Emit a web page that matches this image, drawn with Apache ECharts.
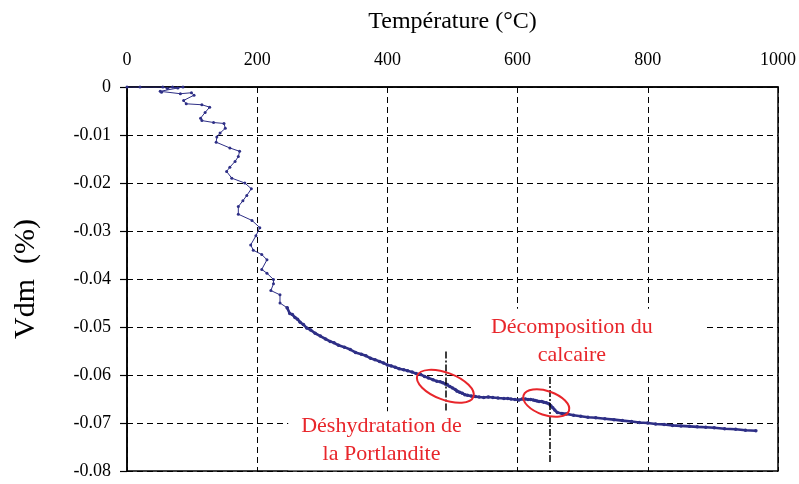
<!DOCTYPE html>
<html><head><meta charset="utf-8">
<script src="https://cdn.jsdelivr.net/npm/echarts@6/dist/echarts.min.js"></script>
<style>html,body{margin:0;padding:0;background:#fff}#c{width:799px;height:484px}</style>
</head><body><div id="c"></div>
<script>
// Temperature (°C) / Vdm (%) — early, sparse readings
const earlyData = [
 [0,0],[20,0],[55,0],[62,-0.0003],[70,0],[78,-0.0002],[86,0],[51,-0.0009],[53,-0.0011],[82,-0.0014],
 [99,-0.0012],[103,-0.0017],[87,-0.0028],[91,-0.0035],[115,-0.0037],[127,-0.0042],[120,-0.0053],
 [113,-0.0065],[115,-0.007],[133,-0.0074],[149,-0.0076],[151,-0.0086],[143,-0.0096],[138,-0.0104],
 [137,-0.0115],[158,-0.0127],[173,-0.0134],[171,-0.0145],[166,-0.0155],[158,-0.0167],[153,-0.0176],
 [161,-0.019],[181,-0.02],[191,-0.0212],[184,-0.0226],[178,-0.0237],[171,-0.0249],[171,-0.0265],
 [192,-0.0278],[204,-0.0293],[198,-0.031],[190,-0.0329],[194,-0.034],[207,-0.0349],[215,-0.036],
 [207,-0.038],[215,-0.0388],[225,-0.0401],[225,-0.041],[221,-0.0424],[235,-0.0433],[235,-0.045],[246,-0.046]
];
// dense readings
const denseData = [
 [246,-0.046],[250,-0.0472],[254,-0.0474],[258,-0.048],[262,-0.0484],[266,-0.049],[271,-0.0495],[276,-0.0502],
 [282,-0.0506],[289,-0.0513],[297,-0.0519],[305,-0.0525],[312,-0.053],[318,-0.0533],[325,-0.0538],[334,-0.0542],
 [343,-0.0547],[351,-0.0553],[360,-0.0557],[367,-0.056],[374,-0.0565],[381,-0.0568],[388,-0.0572],[394,-0.0575],
 [400,-0.0579],[406,-0.0581],[412,-0.0584],[418,-0.0587],[425,-0.0589],[431,-0.0591],[438,-0.0594],[444,-0.0597],
 [451,-0.0599],[457,-0.0603],[463,-0.0606],[470,-0.061],[476,-0.0613],[481,-0.0614],[485,-0.0616],[489,-0.0619],
 [492,-0.062],[496,-0.0624],[500,-0.0627],[504,-0.063],[507,-0.0634],[511,-0.0636],[515,-0.0638],[519,-0.0641],
 [523,-0.0642],[529,-0.0644],[535,-0.0645],[541,-0.0646],[548,-0.0647],[555,-0.0646],[562,-0.0647],[570,-0.0648],
 [579,-0.0649],[585,-0.0649],[590,-0.065],[596,-0.0651],[602,-0.0652],[607,-0.065],[612,-0.065],[616,-0.0651],
 [620,-0.0651],[624,-0.0652],[627,-0.0653],[630,-0.0654],[633,-0.0655],[637,-0.0655],[640,-0.0657],[644,-0.0658],
 [648,-0.066],[651,-0.0664],[654,-0.0668],[657,-0.0673],[661,-0.0678],[668,-0.068],[675,-0.0681],[686,-0.0684],
 [697,-0.0686],[708,-0.0688],[720,-0.0689],[734,-0.0691],[748,-0.0693],[761,-0.0695],[775,-0.0697],[787,-0.0699],
 [800,-0.07],[812,-0.0702],[825,-0.0703],[838,-0.0705],[851,-0.0706],[864,-0.0707],[876,-0.0708],[889,-0.0709],
 [902,-0.071],[918,-0.0712],[935,-0.0713],[950,-0.0715],[966,-0.0716]
];
const xTicks = [0,200,400,600,800,1000];
const xTickLabels = ['0','200','400','600','800','1000'];
const yTicks = [0,-0.01,-0.02,-0.03,-0.04,-0.05,-0.06,-0.07,-0.08];
const yTickLabels = ['0','-0.01','-0.02','-0.03','-0.04','-0.05','-0.06','-0.07','-0.08'];
// annotation anchors (data coordinates)
const eventLines = [
 {x:489, y1:-0.0551, y2:-0.0676},
 {x:650, y1:-0.0604, y2:-0.0781}
];
const ellipseCenters = [[489,-0.06235],[644,-0.06585]];
const notes = [
 {text:'Décomposition du\ncalcaire', at:[708,-0.05306]},
 {text:'Déshydratation de\nla Portlandite', at:[391,-0.07369]}
];

const FONT = 'Liberation Serif';
const NAVY = '#2E2F86';
const RED = '#E8262B';
function lab(ticks, labels){return function(v){const i=ticks.findIndex(t=>Math.abs(t-v)<1e-9);return i>=0?labels[i]:String(v);};}
const chart = echarts.init(document.getElementById('c'));
const option = {
  animation:false,
  backgroundColor:'#fff',
  grid:{left:127,top:87,right:21,bottom:13,containLabel:false,outerBoundsMode:'none',
        show:true,borderColor:'#000',borderWidth:1.5,backgroundColor:'transparent'},
  xAxis:{
    type:'value',position:'top',min:xTicks[0],max:xTicks[xTicks.length-1],interval:200,
    name:'Température (°C)',nameLocation:'middle',nameGap:53,
    nameTextStyle:{fontFamily:FONT,fontSize:24,color:'#000'},
    axisLine:{show:true,lineStyle:{color:'#000',width:1.5}},
    axisTick:{show:false},
    axisLabel:{fontFamily:FONT,fontSize:18,color:'#000',margin:18,formatter:lab(xTicks,xTickLabels)},
    splitLine:{show:true,lineStyle:{color:'#000',width:1,type:[6,4]}}
  },
  yAxis:{
    type:'value',min:yTicks[yTicks.length-1],max:yTicks[0],interval:0.01,
    name:'Vdm  (%)',nameLocation:'middle',nameGap:86,
    nameTextStyle:{fontFamily:FONT,fontSize:30,color:'#000'},
    axisLine:{show:true,onZero:false,lineStyle:{color:'#000',width:1.5}},
    axisTick:{show:true,length:7,lineStyle:{color:'#000',width:1.2}},
    axisLabel:{fontFamily:FONT,fontSize:18,color:'#000',margin:16,formatter:lab(yTicks,yTickLabels)},
    splitLine:{show:true,lineStyle:{color:'#000',width:1,type:[6,4]}}
  },
  series:[
    {type:'line',data:earlyData,symbol:'circle',symbolSize:3,showSymbol:true,
     lineStyle:{color:NAVY,width:1},itemStyle:{color:NAVY},z:3},
    {type:'line',data:denseData,symbol:'circle',symbolSize:3.5,showSymbol:true,
     lineStyle:{color:NAVY,width:2.6},itemStyle:{color:NAVY},z:3,
     markLine:{silent:true,symbol:'none',label:{show:false},
       lineStyle:{color:'#000',width:1.5,type:[7,2,2,2]},
       data:eventLines.map(l=>[{coord:[l.x,l.y1]},{coord:[l.x,l.y2]}])}}
  ]
};
chart.setOption(option);
const ell = [
  {rx:30,ry:13.5,rot:-0.36},
  {rx:24,ry:12,rot:-0.33}
];
const graphics = [];
notes.forEach((n,i)=>{
  const p = chart.convertToPixel({gridIndex:0}, n.at);
  graphics.push({type:'text',x:p[0],y:p[1],z:1,silent:true,
    style:{text:n.text,fill:RED,fontFamily:FONT,fontSize:22,align:'center',verticalAlign:'middle',lineHeight:28,
      backgroundColor:'#fff',padding:i===0?[5,52,5,20]:[2,13,1,13]}});
});
ellipseCenters.forEach((c,i)=>{
  const p = chart.convertToPixel({gridIndex:0}, c);
  graphics.push({type:'ellipse',x:p[0],y:p[1],rotation:ell[i].rot,z:10,silent:true,
    shape:{cx:0,cy:0,rx:ell[i].rx,ry:ell[i].ry},
    style:{fill:'none',stroke:RED,lineWidth:2}});
});
chart.setOption({graphic:graphics});
</script></body></html>
